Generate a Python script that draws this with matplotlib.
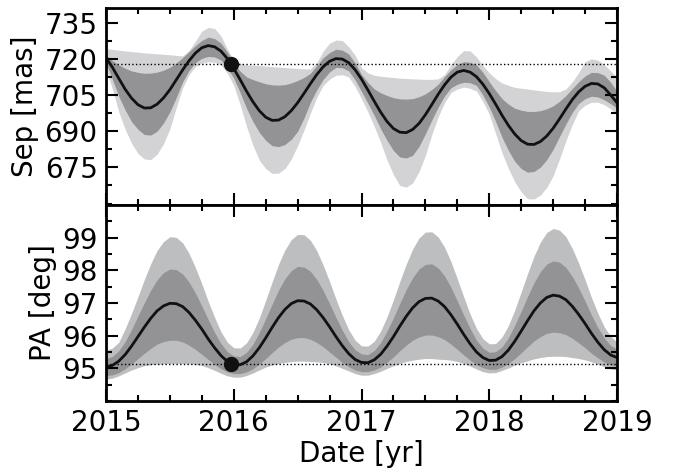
import matplotlib
matplotlib.use('Agg')
import matplotlib.pyplot as plt
from matplotlib.ticker import MultipleLocator

years = [2015.00, 2015.05, 2015.10, 2015.15, 2015.20, 2015.25, 2015.30, 2015.35, 2015.40, 2015.45,
         2015.50, 2015.55, 2015.60, 2015.65, 2015.70, 2015.75, 2015.80, 2015.85, 2015.90, 2015.95,
         2016.00, 2016.05, 2016.10, 2016.15, 2016.20, 2016.25, 2016.30, 2016.35, 2016.40, 2016.45,
         2016.50, 2016.55, 2016.60, 2016.65, 2016.70, 2016.75, 2016.80, 2016.85, 2016.90, 2016.95,
         2017.00, 2017.05, 2017.10, 2017.15, 2017.20, 2017.25, 2017.30, 2017.35, 2017.40, 2017.45,
         2017.50, 2017.55, 2017.60, 2017.65, 2017.70, 2017.75, 2017.80, 2017.85, 2017.90, 2017.95,
         2018.00, 2018.05, 2018.10, 2018.15, 2018.20, 2018.25, 2018.30, 2018.35, 2018.40, 2018.45,
         2018.50, 2018.55, 2018.60, 2018.65, 2018.70, 2018.75, 2018.80, 2018.85, 2018.90, 2018.95,
         2019.00]

# Separation [mas]: median, 1-sigma and 2-sigma envelopes
sep_med = [720.5, 716.5, 711.9, 707.4, 703.7, 701.0, 699.6, 699.7, 701.2, 703.8,
           707.2, 711.3, 715.4, 719.2, 722.4, 724.6, 725.5, 725.0, 723.2, 720.1,
           716.0, 711.4, 706.6, 702.2, 698.5, 695.8, 694.5, 694.6, 696.0, 698.5,
           701.8, 705.7, 709.7, 713.5, 716.7, 719.0, 720.1, 719.9, 718.4, 715.5,
           711.6, 707.1, 702.4, 697.9, 694.0, 691.1, 689.6, 689.4, 690.7, 693.2,
           696.8, 701.0, 705.3, 709.2, 712.4, 714.5, 715.2, 714.5, 712.6, 709.5,
           705.6, 701.2, 696.6, 692.4, 688.8, 686.1, 684.6, 684.5, 685.7, 688.0,
           691.2, 695.1, 699.2, 703.1, 706.3, 708.6, 709.8, 709.6, 708.0, 705.0,
           701.8]
sep_hi2 = [724.2, 723.9, 723.6, 723.3, 723.0, 722.75, 722.5, 722.3, 722.1, 721.9,
           721.7, 721.45, 721.2, 723.5, 727.3, 731.5, 733.0, 732.6, 729.5, 724.0,
           719.5, 718.2, 717.5, 717.35, 717.2, 717.0, 716.8, 716.6, 716.4, 716.2,
           716.0, 715.9, 715.8, 718.5, 723.2, 726.5, 727.8, 727.6, 725.0, 721.5,
           716.3, 714.2, 713.2, 712.8, 712.5, 712.25, 712.0, 711.85, 711.7, 711.6,
           711.5, 711.5, 711.7, 713.5, 717.5, 721.0, 723.4, 723.3, 720.8, 717.3,
           714.2, 711.8, 710.0, 709.0, 708.2, 707.8, 707.5, 707.1, 706.8, 706.5,
           706.3, 706.4, 707.5, 710.5, 714.3, 718.8, 720.0, 719.5, 717.6, 715.0,
           712.3]
sep_hi1 = [721.5, 719.3, 717.5, 716.1, 715.0, 714.4, 714.0, 714.1, 714.5, 715.3,
           716.5, 718.3, 720.5, 723.0, 725.5, 727.6, 729.0, 728.4, 726.5, 722.8,
           718.3, 714.9, 712.5, 711.4, 710.5, 709.7, 709.2, 709.1, 709.3, 710.0,
           711.0, 712.3, 714.0, 717.2, 720.5, 722.6, 724.0, 723.6, 722.0, 718.3,
           713.5, 710.2, 707.5, 705.9, 704.8, 703.9, 703.4, 703.3, 703.5, 704.3,
           705.5, 707.3, 709.5, 712.6, 715.5, 717.6, 718.8, 718.6, 717.5, 714.4,
           710.5, 706.8, 703.5, 701.2, 699.5, 698.7, 698.2, 698.2, 698.5, 699.3,
           700.5, 702.4, 704.8, 707.7, 710.5, 712.9, 714.4, 714.3, 713.2, 710.3,
           706.5]
sep_lo1 = [718.5, 711.5, 704.5, 698.8, 694.0, 690.8, 688.6, 688.4, 690.0, 693.4,
           698.0, 704.0, 710.5, 715.2, 718.5, 720.2, 721.0, 720.8, 719.5, 716.2,
           712.0, 706.0, 699.5, 694.0, 689.5, 686.2, 684.0, 683.6, 684.5, 686.6,
           690.0, 695.5, 702.0, 707.2, 711.5, 714.6, 716.5, 716.3, 715.0, 711.3,
           706.5, 701.6, 696.5, 691.0, 686.2, 682.0, 679.3, 678.9, 680.0, 683.7,
           688.9, 694.6, 700.0, 704.6, 708.0, 709.5, 710.3, 710.1, 709.0, 705.0,
           700.0, 694.0, 687.5, 682.0, 677.5, 674.5, 673.0, 673.3, 675.1, 678.2,
           682.5, 687.8, 693.0, 697.8, 701.5, 703.5, 704.5, 704.2, 703.0, 701.4,
           699.5]
sep_lo2 = [716.0, 707.5, 698.0, 690.8, 685.0, 680.8, 678.5, 678.2, 680.5, 684.8,
           691.0, 699.8, 708.0, 713.5, 716.8, 718.2, 718.8, 718.6, 717.5, 714.0,
           709.0, 701.0, 692.0, 684.2, 678.0, 674.5, 672.5, 672.6, 674.5, 678.4,
           684.0, 690.5, 697.5, 704.0, 709.0, 711.6, 713.2, 713.4, 712.5, 708.5,
           703.5, 698.0, 692.0, 685.3, 678.0, 672.0, 667.5, 666.8, 668.5, 673.2,
           680.0, 688.5, 696.0, 701.8, 706.0, 707.5, 708.3, 707.8, 706.6, 702.3,
           697.0, 689.0, 681.0, 674.5, 669.0, 664.8, 662.0, 661.9, 663.5, 666.7,
           671.5, 678.5, 686.0, 692.8, 698.5, 700.8, 702.0, 702.0, 701.0, 699.3,
           697.0]

# Position angle [deg]: median, 1-sigma and 2-sigma envelopes
pa_med = [95.05, 95.09, 95.22, 95.42, 95.68, 95.97, 96.26, 96.53, 96.76, 96.91,
          96.99, 96.98, 96.89, 96.71, 96.47, 96.20, 95.90, 95.63, 95.39, 95.21,
          95.12, 95.11, 95.20, 95.38, 95.63, 95.93, 96.25, 96.55, 96.80, 96.98,
          97.07, 97.06, 96.97, 96.79, 96.55, 96.27, 95.97, 95.69, 95.45, 95.27,
          95.18, 95.17, 95.26, 95.43, 95.68, 95.97, 96.29, 96.59, 96.85, 97.04,
          97.14, 97.15, 97.06, 96.89, 96.64, 96.35, 96.04, 95.75, 95.50, 95.33,
          95.24, 95.25, 95.36, 95.56, 95.83, 96.14, 96.46, 96.76, 97.00, 97.17,
          97.24, 97.21, 97.10, 96.90, 96.65, 96.37, 96.07, 95.80, 95.57, 95.41,
          95.33]
pa_hi2 = [95.55, 95.62, 95.80, 96.21, 96.68, 97.19, 97.72, 98.20, 98.61, 98.88,
          99.03, 99.01, 98.84, 98.52, 98.08, 97.59, 97.05, 96.56, 96.12, 95.80,
          95.63, 95.62, 95.78, 96.10, 96.54, 97.08, 97.64, 98.18, 98.62, 98.94,
          99.10, 99.09, 98.92, 98.60, 98.16, 97.66, 97.12, 96.62, 96.18, 95.86,
          95.69, 95.68, 95.83, 96.14, 96.58, 97.10, 97.66, 98.19, 98.65, 98.99,
          99.17, 99.18, 99.02, 98.71, 98.27, 97.74, 97.19, 96.66, 96.22, 95.91,
          95.75, 95.76, 95.96, 96.31, 96.79, 97.34, 97.90, 98.43, 98.86, 99.16,
          99.28, 99.23, 99.03, 98.67, 98.22, 97.71, 97.17, 96.69, 96.27, 95.98,
          95.80]
pa_hi1 = [95.30, 95.36, 95.54, 95.82, 96.19, 96.60, 97.01, 97.39, 97.71, 97.93,
          98.04, 98.02, 97.89, 97.64, 97.30, 96.91, 96.49, 96.10, 95.76, 95.51,
          95.38, 95.36, 95.49, 95.74, 96.10, 96.52, 96.96, 97.39, 97.74, 97.99,
          98.12, 98.10, 97.97, 97.72, 97.38, 96.98, 96.56, 96.16, 95.82, 95.57,
          95.44, 95.42, 95.55, 95.79, 96.14, 96.55, 96.99, 97.41, 97.77, 98.04,
          98.18, 98.20, 98.07, 97.83, 97.48, 97.06, 96.63, 96.22, 95.86, 95.62,
          95.49, 95.51, 95.66, 95.94, 96.32, 96.75, 97.20, 97.62, 97.96, 98.19,
          98.29, 98.25, 98.09, 97.81, 97.46, 97.06, 96.63, 96.25, 95.93, 95.70,
          95.59]
pa_lo1 = [94.78, 94.80, 94.87, 94.99, 95.13, 95.30, 95.46, 95.61, 95.74, 95.82,
          95.86, 95.86, 95.81, 95.71, 95.58, 95.43, 95.27, 95.12, 94.99, 94.89,
          94.84, 94.84, 94.89, 94.99, 95.13, 95.30, 95.48, 95.65, 95.79, 95.89,
          95.94, 95.94, 95.89, 95.79, 95.66, 95.50, 95.34, 95.18, 95.05, 94.95,
          94.90, 94.90, 94.95, 95.04, 95.19, 95.35, 95.54, 95.71, 95.86, 95.96,
          96.02, 96.02, 95.97, 95.88, 95.74, 95.58, 95.41, 95.25, 95.11, 95.02,
          94.97, 94.97, 95.04, 95.15, 95.30, 95.48, 95.66, 95.84, 95.97, 96.07,
          96.11, 96.09, 96.03, 95.92, 95.78, 95.63, 95.46, 95.32, 95.19, 95.10,
          95.06]
pa_lo2 = [94.67, 94.70, 94.77, 94.86, 94.95, 95.02, 95.08, 95.11, 95.13, 95.14,
          95.15, 95.15, 95.15, 95.14, 95.12, 95.09, 95.02, 94.94, 94.85, 94.77,
          94.73, 94.73, 94.78, 94.86, 94.95, 95.04, 95.10, 95.15, 95.18, 95.21,
          95.22, 95.22, 95.21, 95.20, 95.18, 95.14, 95.08, 95.00, 94.92, 94.84,
          94.79, 94.79, 94.84, 94.91, 95.00, 95.08, 95.15, 95.21, 95.25, 95.28,
          95.30, 95.30, 95.28, 95.27, 95.25, 95.21, 95.15, 95.07, 94.98, 94.90,
          94.86, 94.87, 94.94, 95.01, 95.10, 95.17, 95.23, 95.29, 95.33, 95.36,
          95.37, 95.37, 95.36, 95.33, 95.30, 95.26, 95.20, 95.13, 95.05, 94.98,
          94.95]

obs_epoch = 2015.98
obs_sep = 717.9
obs_pa = 95.13

sep_ticks = [675, 690, 705, 720, 735]
pa_ticks = [95, 96, 97, 98, 99]
year_ticks = [2015, 2016, 2017, 2018, 2019]

plt.rcParams['font.family'] = ['DejaVu Sans']
plt.rcParams['font.size'] = 20

fig = plt.figure(figsize=(6.73, 4.72), dpi=100)
ax1 = fig.add_axes([0.1575, 0.5657, 0.7593, 0.4174])
ax2 = fig.add_axes([0.1575, 0.1504, 0.7593, 0.4153], sharex=ax1)

dark = '#939396'

def style(ax, minor_y):
    ax.xaxis.set_minor_locator(MultipleLocator(0.25))
    ax.yaxis.set_minor_locator(MultipleLocator(minor_y))
    ax.tick_params(which='both', direction='in', top=True, right=True, width=1.5)
    ax.tick_params(which='major', length=8.5, labelsize=20, pad=6)
    ax.tick_params(which='minor', length=4.5)
    for s in ax.spines.values():
        s.set_linewidth(2)

ax1.fill_between(years, sep_lo2, sep_hi2, color='#d3d3d5', lw=0)
ax1.fill_between(years, sep_lo1, sep_hi1, color=dark, lw=0)
ax1.axhline(obs_sep, color='k', ls=':', lw=1)
ax1.plot(years, sep_med, color='#111111', lw=2)
ax1.plot([obs_epoch], [obs_sep], 'o', color='#111111', ms=10, zorder=5)
ax1.set_ylim(659.4, 741.1)
ax1.set_yticks(sep_ticks)
ax1.set_ylabel('Sep [mas]')
style(ax1, 7.5)
ax1.tick_params(labelbottom=False)

ax2.fill_between(years, pa_lo2, pa_hi2, color='#bdbec0', lw=0)
ax2.fill_between(years, pa_lo1, pa_hi1, color=dark, lw=0)
ax2.axhline(obs_pa, color='k', ls=':', lw=1)
ax2.plot(years, pa_med, color='#111111', lw=2)
ax2.plot([obs_epoch], [obs_pa], 'o', color='#111111', ms=10, zorder=5)
ax2.set_ylim(94.0, 100.0)
ax2.set_yticks(pa_ticks)
ax2.set_ylabel('PA [deg]')
ax2.set_xlim(2015, 2019)
ax2.set_xticks(year_ticks)
ax2.set_xlabel('Date [yr]', labelpad=2)
style(ax2, 0.5)

fig.savefig('out.png', dpi=100)
